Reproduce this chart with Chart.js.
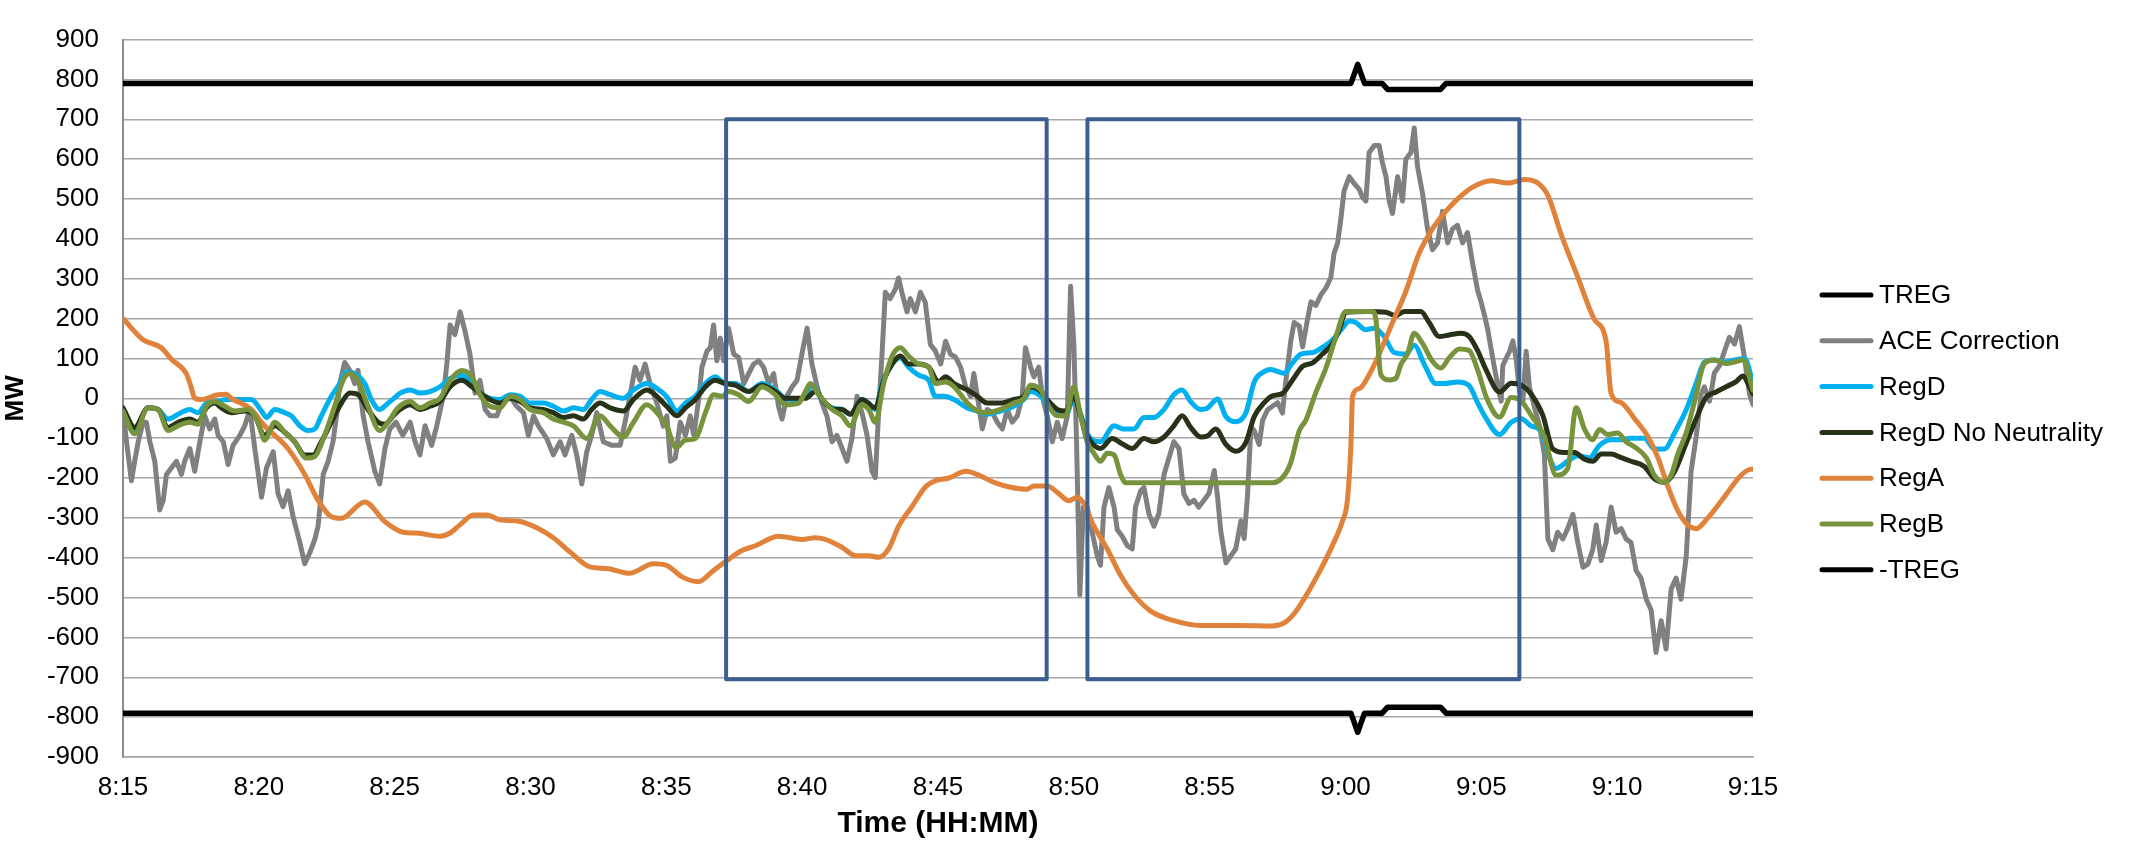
<!DOCTYPE html>
<html>
<head>
<meta charset="utf-8">
<title>Regulation signals vs ACE correction</title>
<script src="https://cdn.jsdelivr.net/npm/chart.js@4.4.1/dist/chart.umd.min.js"></script>
<style>
  html, body { margin: 0; padding: 0; background: #ffffff; }
  #wrap { width: 2131px; height: 842px; }
</style>
</head>
<body>
<div id="wrap"><canvas id="chart" width="2131" height="842"></canvas></div>
<script>
// Time axis runs in minutes after 8:15
const timeTicks = ['8:15', '8:20', '8:25', '8:30', '8:35', '8:40', '8:45', '8:50', '8:55', '9:00', '9:05', '9:10', '9:15'];

// Regulation limits
const tregTime = [0, 45.2, 45.45, 45.7, 46.35, 46.55, 48.5, 48.7, 60];
const tregMW = [790, 790, 838, 790, 790, 775, 775, 790, 790];
const negTregMW = [-790, -790, -838, -790, -790, -775, -775, -790, -790];

// ACE correction (MW)
const aceTime = [
  0, 0.13, 0.31, 0.43, 0.56, 0.74, 0.86, 0.99, 1.17, 1.35,
  1.48, 1.6, 1.78, 1.97, 2.15, 2.27, 2.46, 2.64, 2.83, 3.01,
  3.19, 3.38, 3.5, 3.69, 3.87, 4.05, 4.3, 4.48, 4.67, 4.85,
  5.1, 5.28, 5.53, 5.71, 5.89, 6.08, 6.26, 6.51, 6.69, 6.88,
  7.06, 7.18, 7.37, 7.55, 7.73, 7.86, 7.98, 8.16, 8.35, 8.53,
  8.65, 8.84, 9.02, 9.27, 9.45, 9.64, 9.82, 10.05, 10.3, 10.57,
  10.75, 10.93, 11.12, 11.36, 11.55, 11.79, 11.92, 12.04, 12.22, 12.41,
  12.59, 12.77, 12.96, 13.14, 13.33, 13.51, 13.76, 13.94, 14.25, 14.49,
  14.74, 14.92, 15.11, 15.29, 15.6, 15.84, 16.09, 16.27, 16.52, 16.7,
  16.89, 17.07, 17.25, 17.44, 17.68, 17.99, 18.3, 18.48, 18.66, 18.85,
  19.03, 19.22, 19.4, 19.65, 19.89, 20.02, 20.15, 20.33, 20.51, 20.7,
  20.88, 21.01, 21.19, 21.31, 21.5, 21.62, 21.74, 21.86, 21.99, 22.11,
  22.29, 22.48, 22.66, 22.85, 23.03, 23.21, 23.4, 23.58, 23.77, 23.95,
  24.13, 24.26, 24.44, 24.63, 24.81, 24.99, 25.18, 25.36, 25.55, 25.73,
  25.91, 26.1, 26.28, 26.47, 26.65, 26.83, 27.02, 27.2, 27.39, 27.57,
  27.69, 27.82, 27.94, 28.06, 28.24, 28.43, 28.55, 28.67, 28.86, 28.98,
  29.17, 29.35, 29.53, 29.72, 29.9, 30.1, 30.28, 30.46, 30.65, 30.83,
  31.02, 31.2, 31.32, 31.45, 31.63, 31.81, 32, 32.18, 32.37, 32.55,
  32.73, 32.92, 33.1, 33.22, 33.41, 33.53, 33.71, 33.84, 34.02, 34.21,
  34.39, 34.57, 34.76, 34.88, 35, 35.1, 35.22, 35.35, 35.49, 35.68,
  35.86, 35.98, 36.11, 36.29, 36.48, 36.6, 36.78, 36.97, 37.15, 37.27,
  37.46, 37.58, 37.76, 37.95, 38.13, 38.32, 38.5, 38.68, 38.87, 39.05,
  39.24, 39.42, 39.6, 39.79, 39.98, 40.17, 40.29, 40.41, 40.6, 40.78,
  40.96, 41.15, 41.27, 41.39, 41.52, 41.64, 41.82, 41.95, 42.13, 42.31,
  42.5, 42.68, 42.8, 42.99, 43.11, 43.3, 43.42, 43.6, 43.73, 43.91,
  44.09, 44.28, 44.46, 44.58, 44.71, 44.83, 44.95, 45.14, 45.32, 45.5,
  45.63, 45.75, 45.87, 46.06, 46.24, 46.36, 46.49, 46.61, 46.73, 46.92,
  47.1, 47.22, 47.41, 47.53, 47.65, 47.84, 48.02, 48.2, 48.39, 48.57,
  48.76, 48.94, 49.12, 49.31, 49.49, 49.68, 49.87, 49.99, 50.12, 50.24,
  50.42, 50.61, 50.73, 50.79, 50.91, 51.04, 51.16, 51.28, 51.4, 51.53,
  51.65, 51.77, 51.96, 52.14, 52.32, 52.45, 52.63, 52.81, 53, 53.18,
  53.37, 53.55, 53.74, 53.92, 54.1, 54.23, 54.41, 54.59, 54.78, 54.96,
  55.15, 55.33, 55.51, 55.7, 55.88, 56.07, 56.25, 56.43, 56.62, 56.8,
  56.99, 57.17, 57.35, 57.54, 57.72, 57.91, 58.09, 58.21, 58.4, 58.58,
  58.77, 58.95, 59.13, 59.32, 59.5, 59.69, 59.87, 60
];
const aceMW = [
  -28, -109, -207, -158, -109, -60, -60, -109, -158, -280,
  -256, -191, -175, -158, -191, -158, -126, -183, -109, -44,
  -77, -52, -93, -109, -166, -118, -93, -69, -28, -126,
  -248, -175, -134, -240, -272, -232, -297, -362, -415, -387,
  -354, -321, -191, -158, -109, -44, 37, 90, 70, 37,
  70, -44, -109, -183, -215, -126, -77, -60, -93, -60,
  -109, -142, -69, -118, -69, 5, 86, 184, 160, 217,
  168, 111, 13, 45, -28, -44, -44, -12, 5, -20,
  -36, -93, -44, -69, -101, -142, -109, -142, -93, -142,
  -215, -134, -93, -36, -109, -118, -118, -60, 5, 78,
  45, 86, 37, -12, -70, -44, -158, -150, -60, -93,
  -44, -93, -3, 78, 119, 127, 184, 94, 151, 94,
  176, 111, 103, 37, 62, 86, 94, 78, 37, 62,
  -20, -52, 5, 29, 45, 111, 176, 86, 29, -12,
  -44, -109, -93, -126, -158, -101, 5, -36, -93, -183,
  -199, -28, 111, 266, 250, 274, 302, 266, 217, 250,
  217, 266, 241, 135, 119, 86, 143, 111, 103, 78,
  29, 5, 62, 5, -77, -28, -36, -60, -77, -28,
  -60, -44, 5, 127, 78, 54, 78, 5, -44, -109,
  -60, -101, -44, 281, 135, -109, -493, -273, -273, -338,
  -395, -419, -273, -224, -273, -330, -346, -370, -378, -273,
  -232, -224, -289, -321, -289, -191, -150, -109, -126, -240,
  -264, -256, -273, -256, -238, -181, -247, -334, -413, -395,
  -378, -308, -352, -247, -72, -81, -116, -55, -29, -20,
  -11, -37, 41, 146, 190, 181, 129, 198, 242, 233,
  259, 277, 303, 364, 390, 451, 521, 556, 539, 525,
  504, 495, 617, 634, 634, 591, 556, 495, 464, 556,
  495, 600, 617, 678, 582, 512, 425, 373, 390, 469,
  390, 425, 434, 390, 416, 338, 269, 242, 207, 171,
  100, 29, -7, 82, 100, 118, 144, 100, 20, -7,
  118, 29, -24, -69, -140, -353, -380, -336, -353, -327,
  -291, -362, -424, -416, -380, -318, -407, -362, -273, -336,
  -327, -353, -362, -433, -451, -504, -531, -638, -558, -629,
  -478, -451, -504, -398, -184, -96, 11, 29, -7, 64,
  82, 118, 153, 136, 180, 100, 11, -16
];

// RegD (MW)
const regdTime = [
  0, 0.43, 0.92, 1.29, 1.66, 2.03, 2.46, 2.76, 3.07, 3.38,
  3.87, 4.72, 5.1, 5.28, 5.59, 5.95, 6.2, 6.51, 6.81, 7.06,
  7.3, 7.67, 7.98, 8.22, 8.53, 8.9, 9.14, 9.45, 9.76, 10.06,
  10.2, 10.57, 10.93, 11.3, 11.67, 12.04, 12.47, 12.84, 13.14, 13.51,
  13.88, 14.25, 14.62, 14.98, 15.47, 15.84, 16.21, 16.58, 16.95, 17.25,
  17.56, 17.93, 18.42, 18.79, 19.28, 19.65, 20.01, 20.39, 20.7, 21.07,
  21.44, 21.8, 22.17, 22.54, 23.03, 23.52, 24.01, 24.38, 24.75, 25.12,
  25.36, 25.73, 26.1, 26.47, 26.77, 27.2, 27.45, 27.69, 27.94, 28.31,
  28.61, 28.92, 29.29, 29.66, 29.9, 30.22, 30.59, 31.08, 31.45, 31.81,
  32.3, 32.79, 33.16, 33.41, 33.78, 34.08, 34.39, 34.7, 35, 35.25,
  35.49, 35.98, 36.48, 36.84, 37.21, 37.58, 37.95, 38.32, 38.68, 38.99,
  39.3, 39.67, 39.91, 40.29, 40.6, 40.96, 41.33, 41.64, 42.01, 42.25,
  42.74, 43.05, 43.36, 43.79, 44.15, 44.52, 44.89, 45.14, 45.38, 45.75,
  46.06, 46.42, 46.79, 47.22, 47.53, 47.9, 48.33, 48.63, 49.12, 49.55,
  49.86, 50.17, 50.67, 51.1, 51.47, 51.83, 52.2, 52.51, 52.75, 53.18,
  53.55, 53.98, 54.35, 54.78, 55.15, 55.51, 56, 56.37, 56.74, 57.11,
  57.54, 57.91, 58.21, 58.58, 58.95, 59.32, 59.69, 60
];
const regdMW = [
  -36, -81, -24, -28, -52, -40, -28, -36, -12, -8,
  -3, -3, -32, -48, -28, -36, -44, -69, -81, -77,
  -44, 5, 37, 66, 62, 37, -3, -28, -12, 5,
  13, 21, 13, 17, 29, 50, 58, 41, 13, 0,
  -3, 9, 5, -12, -12, -20, -32, -24, -28, -3,
  17, 9, 0, 21, 37, 25, 5, -32, -12, 5,
  37, 54, 37, 37, 17, 37, 21, 0, -3, 5,
  33, -3, -24, -28, -40, -3, -12, -28, 37, 86,
  102, 78, 58, 45, 5, 5, -3, -24, -32, -40,
  -32, -20, -3, 17, 5, -20, -40, -44, 0, -40,
  -89, -109, -69, -77, -77, -48, -48, -28, 9, 21,
  -8, -28, -25, -2, -46, -59, -37, 41, 67, 72,
  63, 89, 111, 115, 128, 146, 176, 194, 190, 172,
  176, 155, 115, 111, 133, 85, 37, 37, 41, 32,
  -11, -50, -91, -60, -51, -69, -82, -149, -176, -158,
  -144, -149, -118, -104, -104, -100, -100, -127, -127, -87,
  -29, 38, 91, 96, 91, 96, 100, 38
];

// RegD without neutrality (MW)
const regdNnTime = [
  0, 0.43, 0.92, 1.29, 1.66, 2.03, 2.46, 2.76, 3.07, 3.38,
  3.62, 3.99, 4.48, 4.85, 5.21, 5.59, 5.95, 6.32, 6.69, 7,
  7.3, 7.67, 8.04, 8.35, 8.65, 9.02, 9.39, 9.63, 10, 10.2,
  10.57, 10.93, 11.3, 11.67, 12.04, 12.47, 12.84, 13.14, 13.51, 13.88,
  14.25, 14.62, 14.98, 15.47, 15.84, 16.21, 16.58, 16.95, 17.25, 17.56,
  17.93, 18.42, 18.79, 19.28, 19.65, 20.01, 20.39, 20.7, 21.07, 21.44,
  21.8, 22.17, 22.54, 23.03, 23.52, 24.01, 24.38, 25.12, 25.48, 25.85,
  26.22, 26.47, 26.77, 27.2, 27.69, 28, 28.31, 28.61, 28.92, 29.29,
  29.66, 30.02, 30.28, 30.59, 31.08, 31.45, 31.81, 32.3, 32.79, 33.16,
  33.41, 33.78, 34.08, 34.39, 34.7, 35, 35.25, 35.49, 35.98, 36.41,
  36.78, 37.15, 37.58, 37.95, 38.32, 38.68, 38.99, 39.3, 39.67, 39.91,
  40.22, 40.6, 40.96, 41.33, 41.64, 42.01, 42.31, 42.68, 43.05, 43.42,
  43.79, 44.15, 44.52, 44.77, 45.01, 45.75, 46.49, 46.85, 47.16, 47.77,
  48.08, 48.45, 48.82, 49.25, 49.55, 49.86, 50.17, 50.67, 51.1, 51.47,
  51.83, 52.26, 52.63, 53.06, 53.43, 53.8, 54.1, 54.41, 54.78, 55.15,
  55.51, 56, 56.37, 56.74, 57.11, 57.54, 57.91, 58.27, 58.64, 59.01,
  59.38, 59.63, 59.87, 60
];
const regdNnMW = [
  -24, -73, -24, -28, -73, -60, -52, -60, -24, -12,
  -24, -36, -32, -44, -93, -69, -85, -109, -142, -142,
  -109, -60, -12, 13, 9, -28, -60, -65, -40, -28,
  -16, -28, -20, -8, 29, 45, 29, 13, -3, -12,
  0, -8, -24, -28, -36, -48, -44, -52, -28, -12,
  -24, -32, -3, 21, 5, -20, -44, -24, -3, 29,
  45, 37, 33, 17, 33, 17, 0, 0, 17, -12,
  -28, -28, -40, -3, -24, 45, 86, 106, 86, 86,
  78, 42, 54, 37, 21, 5, -12, -12, -3, 5,
  29, 17, -8, -28, -32, 5, -44, -93, -126, -101,
  -114, -126, -101, -109, -97, -69, -44, -73, -97, -95,
  -77, -116, -133, -111, -46, -11, 6, 12, 46, 80,
  89, 111, 137, 172, 216, 218, 216, 207, 218, 218,
  190, 155, 159, 163, 155, 120, 72, 16, 38, 33,
  11, -42, -127, -136, -136, -153, -158, -140, -140, -149,
  -158, -171, -202, -211, -184, -113, -51, 2, 16, 29,
  42, 56, 29, 11
];

// RegA (MW)
const regaTime = [
  0, 0.74, 1.41, 1.78, 2.33, 2.5, 2.64, 2.88, 3.5, 3.8,
  3.99, 4.72, 5.21, 6.07, 6.69, 7.18, 7.67, 8.04, 8.9, 9.63,
  10.31, 10.81, 11.67, 12.04, 12.41, 12.9, 13.39, 13.88, 14.62, 15.23,
  15.84, 16.46, 17.19, 17.81, 18.66, 19.52, 20.01, 20.58, 21.19, 21.68,
  22.23, 22.78, 23.28, 24.13, 24.99, 25.48, 25.85, 26.47, 26.96, 27.45,
  27.82, 28.18, 28.55, 29.04, 29.53, 29.9, 30.4, 31.02, 31.57, 32.06,
  32.67, 33.29, 33.53, 34.02, 34.39, 34.82, 35.13, 35.37, 35.74, 36.23,
  36.72, 37.21, 37.83, 38.68, 39.67, 41.09, 42.31, 42.8, 43.17, 43.66,
  44.15, 44.52, 44.89, 45.07, 45.2, 45.26, 45.5, 45.87, 46.24, 46.73,
  47.22, 47.71, 48.2, 48.69, 49.19, 49.68, 50.36, 50.97, 51.59, 52.08,
  52.45, 52.94, 53.55, 54.16, 54.59, 54.78, 55.15, 55.64, 56.13, 56.5,
  56.86, 57.23, 57.6, 57.91, 58.34, 58.95, 59.56, 59.93, 60
];
const regaMW = [
  200, 147, 127, 98, 62, 30, 0, -3, 9, 10,
  0, -28, -69, -126, -191, -256, -297, -301, -260, -309,
  -336, -338, -346, -338, -317, -293, -293, -305, -309, -325,
  -350, -386, -423, -427, -439, -415, -419, -448, -460, -435,
  -407, -382, -370, -346, -354, -350, -354, -374, -395, -395,
  -399, -378, -321, -272, -223, -207, -200, -183, -195, -211,
  -223, -228, -220, -220, -236, -257, -248, -264, -321, -378,
  -444, -493, -534, -558, -570, -570, -571, -561, -535, -482,
  -421, -369, -308, -255, -116, 6, 24, 59, 111, 190,
  268, 364, 425, 469, 504, 530, 546, 540, 549, 540,
  509, 411, 304, 198, 144, 11, -11, -51, -96, -149,
  -220, -282, -318, -327, -300, -247, -193, -178, -178
];

// RegB (MW)
const regbTime = [
  0, 0.43, 0.92, 1.29, 1.66, 2.03, 2.46, 2.76, 3.07, 3.38,
  3.75, 4.11, 4.6, 4.97, 5.21, 5.59, 5.95, 6.32, 6.75, 7.06,
  7.42, 7.79, 8.1, 8.35, 8.65, 9.02, 9.45, 9.76, 10.12, 10.57,
  10.93, 11.3, 11.67, 12.04, 12.47, 12.84, 13.14, 13.51, 13.88, 14.25,
  14.62, 14.98, 15.47, 15.84, 16.21, 16.58, 17.07, 17.56, 17.93, 18.42,
  18.79, 19.28, 19.65, 20.01, 20.36, 20.7, 21.07, 21.44, 21.74, 22.05,
  22.29, 22.66, 23.03, 23.52, 24.01, 24.38, 24.87, 25.12, 25.3, 25.61,
  26.1, 26.47, 26.77, 27.2, 27.45, 27.69, 28, 28.31, 28.61, 28.92,
  29.29, 29.66, 29.9, 30.28, 30.59, 31.08, 31.45, 31.81, 32.3, 32.79,
  33.16, 33.41, 33.78, 34.08, 34.39, 34.7, 35, 35.25, 35.49, 35.74,
  35.98, 36.23, 36.48, 36.72, 36.91, 42.31, 42.74, 42.99, 43.3, 43.54,
  43.91, 44.28, 44.65, 45.01, 45.99, 46.12, 46.3, 46.61, 46.85, 47.04,
  47.28, 47.53, 47.84, 48.2, 48.51, 48.82, 49.19, 49.55, 49.87, 50.2,
  50.67, 51.1, 51.47, 51.83, 52.32, 52.75, 53.18, 53.49, 53.8, 54.1,
  54.35, 54.66, 55.02, 55.33, 55.64, 56.07, 56.37, 56.68, 56.99, 57.23,
  57.54, 57.85, 58.21, 58.58, 59.01, 59.32, 59.63, 60
];
const regbMW = [
  -32, -89, -24, -28, -81, -69, -60, -65, -20, -8,
  -20, -32, -28, -60, -105, -60, -85, -109, -150, -146,
  -93, -20, 45, 62, 45, -20, -81, -60, -24, -8,
  -24, -12, 0, 45, 70, 54, 9, -20, -24, 5,
  -3, -28, -36, -52, -60, -69, -101, -44, -69, -97,
  -60, -16, -36, -69, -124, -105, -101, -36, 9, 5,
  17, 9, -8, 29, 9, -16, -12, 17, 37, 9,
  -28, -44, -69, -16, -28, -60, 37, 106, 127, 106,
  86, 78, 37, 41, 29, -12, -32, -36, -28, -12,
  0, 33, 21, -20, -44, -44, 29, -44, -109, -138,
  -158, -138, -142, -191, -212, -212, -194, -160, -81, -55,
  15, 76, 155, 218, 218, 198, 59, 46, 50, 85,
  111, 163, 137, 93, 76, 102, 124, 120, 70, 0,
  -47, 2, -7, -42, -96, -193, -176, -24, -78, -104,
  -78, -91, -87, -109, -122, -149, -193, -211, -193, -140,
  -87, -7, 87, 96, 87, 91, 96, 20
];

// Highlighted intervals (minutes after 8:15, MW)
const boxStart = [22.2, 35.5];
const boxEnd = [34.0, 51.4];
const boxTop = [700, 700];
const boxBottom = [-705, -705];

const toPoints = (times, values) => times.map((t, i) => ({ x: t, y: values[i] }));

// Outline rectangles around the highlighted intervals
const intervalBoxes = {
  id: 'intervalBoxes',
  afterDatasetsDraw(chart, args, opts) {
    const { ctx, scales: { x, y } } = chart;
    ctx.save();
    ctx.strokeStyle = opts.color;
    ctx.lineWidth = opts.width;
    ctx.lineJoin = 'round';
    boxStart.forEach((start, i) => {
      const left = x.getPixelForValue(start);
      const right = x.getPixelForValue(boxEnd[i]);
      const top = y.getPixelForValue(boxTop[i]);
      const bottom = y.getPixelForValue(boxBottom[i]);
      ctx.strokeRect(left, top, right - left, bottom - top);
    });
    ctx.restore();
  }
};

// Legend to the right of the plot, one row per series
const sideLegend = {
  id: 'sideLegend',
  afterDraw(chart, args, opts) {
    const ctx = chart.ctx;
    ctx.save();
    ctx.font = opts.font;
    ctx.textBaseline = 'middle';
    ctx.textAlign = 'left';
    chart.data.datasets.forEach((ds, i) => {
      const yPos = opts.top + i * opts.rowGap;
      ctx.strokeStyle = ds.borderColor;
      ctx.lineWidth = opts.lineWidth;
      ctx.lineCap = 'round';
      ctx.beginPath();
      ctx.moveTo(opts.lineStart, yPos);
      ctx.lineTo(opts.lineEnd, yPos);
      ctx.stroke();
      ctx.fillStyle = '#000000';
      ctx.fillText(ds.label, opts.textX, yPos + 1);
    });
    ctx.restore();
  }
};

const lineStyle = {
  pointRadius: 0,
  pointHoverRadius: 0,
  fill: false,
  borderJoinStyle: 'round',
  borderCapStyle: 'round',
  borderWidth: 5
};

Chart.defaults.font.family = "'Liberation Sans', Arial, sans-serif";
Chart.defaults.color = '#000000';

new Chart(document.getElementById('chart'), {
  type: 'line',
  data: {
    datasets: [
      { ...lineStyle, label: 'TREG', data: toPoints(tregTime, tregMW), borderColor: '#000000', borderWidth: 5.5, order: 7 },
      { ...lineStyle, label: 'ACE Correction', data: toPoints(aceTime, aceMW), borderColor: '#808080', order: 6 },
      { ...lineStyle, label: 'RegD', data: toPoints(regdTime, regdMW), borderColor: '#00B0F0', cubicInterpolationMode: 'monotone', order: 5 },
      { ...lineStyle, label: 'RegD No Neutrality', data: toPoints(regdNnTime, regdNnMW), borderColor: '#273219', cubicInterpolationMode: 'monotone', order: 4 },
      { ...lineStyle, label: 'RegA', data: toPoints(regaTime, regaMW), borderColor: '#E0823A', cubicInterpolationMode: 'monotone', order: 3 },
      { ...lineStyle, label: 'RegB', data: toPoints(regbTime, regbMW), borderColor: '#77933C', cubicInterpolationMode: 'monotone', order: 2 },
      { ...lineStyle, label: '-TREG', data: toPoints(tregTime, negTregMW), borderColor: '#000000', borderWidth: 5.5, order: 1 }
    ]
  },
  options: {
    responsive: false,
    devicePixelRatio: 1,
    animation: false,
    events: [],
    layout: { padding: { top: 20, right: 378, bottom: 0, left: 0 } },
    plugins: {
      legend: { display: false },
      tooltip: { enabled: false },
      intervalBoxes: { color: '#3C5F8F', width: 4 },
      sideLegend: {
        lineStart: 1822, lineEnd: 1871, textX: 1879,
        top: 295, rowGap: 45.8, lineWidth: 5,
        font: "26px 'Liberation Sans', Arial, sans-serif"
      }
    },
    scales: {
      x: {
        type: 'linear',
        min: 0,
        max: 60,
        ticks: {
          stepSize: 5,
          autoSkip: false,
          maxRotation: 0,
          padding: 15,
          font: { size: 26 },
          color: '#000000',
          callback: (value) => timeTicks[Math.round(value / 5)]
        },
        grid: { display: false, drawTicks: false },
        border: { display: true, color: '#A6A6A6', width: 1.5 },
        title: {
          display: true,
          text: 'Time (HH:MM)',
          font: { size: 30, weight: 'bold' },
          color: '#000000',
          padding: { top: 0, bottom: 0 }
        },
        afterFit(scale) { scale.height = 85; }
      },
      y: {
        min: -900,
        max: 900,
        ticks: { stepSize: 100, padding: 24, font: { size: 26 }, color: '#000000' },
        grid: { color: '#A6A6A6', lineWidth: 1.5, drawTicks: false },
        border: { color: '#8C8C8C', width: 2 },
        title: {
          display: true,
          text: 'MW',
          font: { size: 26, weight: 'bold' },
          color: '#000000',
          padding: { top: 0, bottom: 0 }
        },
        afterFit(scale) { scale.width = 123; }
      }
    }
  },
  plugins: [intervalBoxes, sideLegend]
});
</script>
</body>
</html>
